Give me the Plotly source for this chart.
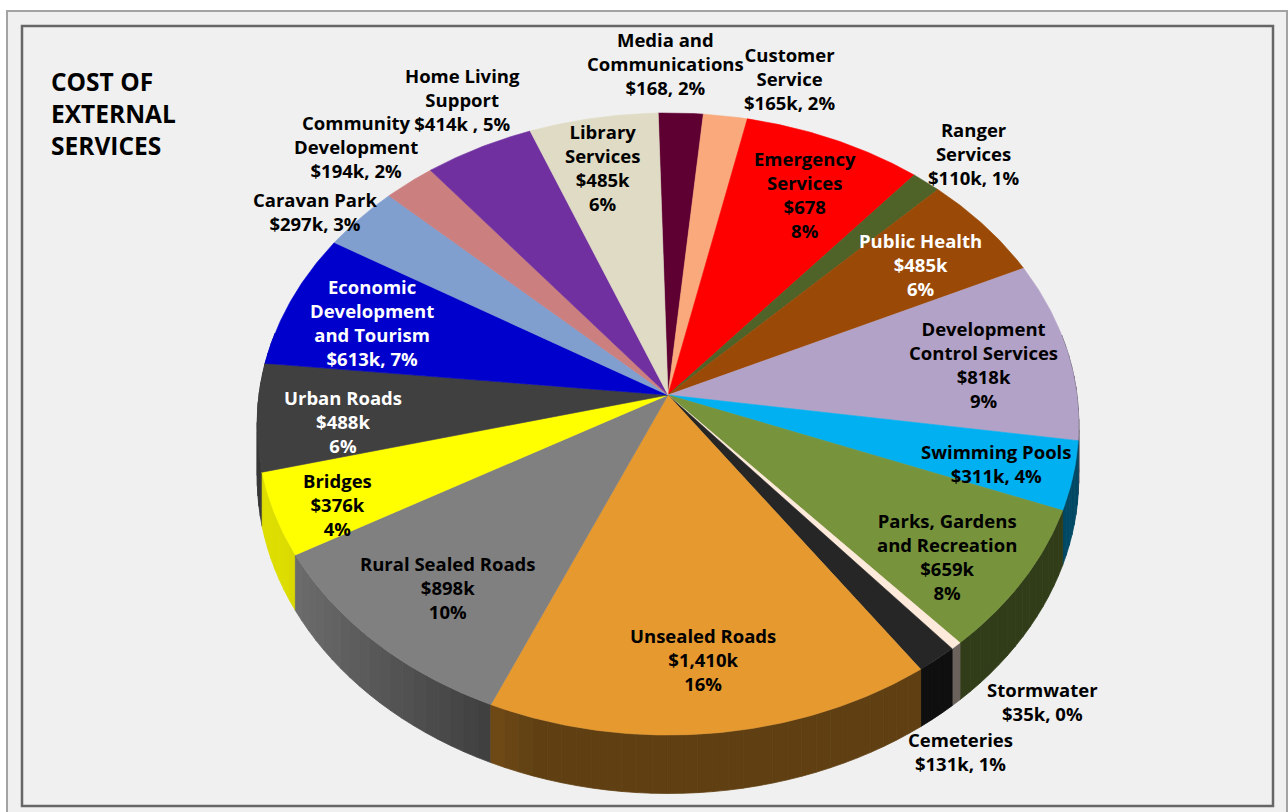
import numpy as np
import plotly.graph_objects as go

# ---------------- data ----------------
categories = ["Media and Communications", "Customer Service", "Emergency Services",
              "Ranger Services", "Public Health", "Development Control Services",
              "Swimming Pools", "Parks, Gardens and Recreation", "Stormwater",
              "Cemeteries", "Unsealed Roads", "Rural Sealed Roads", "Bridges",
              "Urban Roads", "Economic Development and Tourism", "Caravan Park",
              "Community Development", "Home Living Support", "Library Services"]
values_k = [168, 165, 678, 110, 485, 818, 311, 659, 35, 131, 1410, 898, 376, 488,
            613, 297, 194, 414, 485]
# text as it appears in each data label
name_lines = ["Media and<br>Communications", "Customer<br>Service", "Emergency<br>Services",
              "Ranger<br>Services", "Public Health", "Development<br>Control Services",
              "Swimming Pools", "Parks, Gardens<br>and Recreation", "Stormwater",
              "Cemeteries", "Unsealed Roads", "Rural Sealed Roads", "Bridges",
              "Urban Roads", "Economic<br>Development<br>and Tourism", "Caravan Park",
              "Community<br>Development", "Home Living<br>Support", "Library<br>Services"]
value_units = ["", "k", "", "k", "k", "k", "k", "k", "k", "k", "k", "k", "k", "k",
               "k", "k", "k", "k", "k"]
value_pct_sep = [", ", ", ", "<br>", ", ", "<br>", "<br>", ", ", "<br>", ", ", ", ",
                 "<br>", "<br>", "<br>", "<br>", ", ", ", ", ", ", " , ", "<br>"]
title_lines = ["COST OF", "EXTERNAL", "SERVICES"]

# ---------------- styles ----------------
colors = ["#5F0032", "#F9A97B", "#FF0000", "#4F6228", "#9A4A06", "#B3A2C7",
          "#00B0F0", "#77933C", "#FDEADA", "#262626", "#E6992F", "#808080",
          "#FFFF00", "#404040", "#0000CC", "#809ECE", "#CC7F7F", "#7030A0", "#DFDBC4"]
label_colors = ["black"] * len(categories)
for white_name in ["Public Health", "Urban Roads", "Economic Development and Tourism"]:
    label_colors[categories.index(white_name)] = "white"
# label centres (layout pixels)
label_pos = [(665, 63), (789, 78), (805, 194), (973, 153), (920, 264), (983, 364),
             (996, 463), (947, 556), (1042, 701), (960, 751), (703, 659), (448, 587),
             (337, 504), (343, 421), (372, 322), (315, 211), (356, 146), (462, 99),
             (602, 167)]

W, H = 1288, 812
CX, CY = 668.0, 395.0      # apex of the pie
A, B, K = 409.0, 308.3, 0.0933   # perspective ellipse parameters
DEPTH = 53.0
START = -1.5               # degrees, clockwise from 12 o'clock


def proj(theta_deg, drop=0.0):
    t = np.radians(theta_deg)
    X = np.sin(t)
    Y = np.cos(t)
    w = 1 + K * Y
    return CX + A * X / w, CY - B * Y / w + drop / w


def shade(hex_color, f):
    h = hex_color.lstrip("#")
    r, g, b = (int(h[i:i + 2], 16) for i in (0, 2, 4))
    return "rgb(%d,%d,%d)" % (min(255, r * f), min(255, g * f), min(255, b * f))


total = float(sum(values_k))
fracs = np.array(values_k) / total
bounds = START + 360.0 * np.concatenate([[0.0], np.cumsum(fracs)])

fig = go.Figure()

# ---- side walls (back to front) ----
walls = []
for i in range(len(values_k)):
    a0, a1 = bounds[i], bounds[i + 1]
    n = max(1, int(np.ceil((a1 - a0) / 2.0)))
    edges = np.linspace(a0, a1, n + 1)
    for s0, s1 in zip(edges[:-1], edges[1:]):
        mid = 0.5 * (s0 + s1)
        Ym = np.cos(np.radians(mid))
        if Ym > 0.2:
            continue
        Xm = np.sin(np.radians(mid))
        f = 0.42 + 0.45 * np.clip((-Xm - 0.3) / 0.6, 0, 1)
        th = np.linspace(s0, s1, 6)
        xt, yt = proj(th)
        xb, yb = proj(th[::-1], DEPTH)
        walls.append((Ym, np.concatenate([xt, xb, xt[:1]]),
                      np.concatenate([yt, yb, yt[:1]]), shade(colors[i], f)))
walls.sort(key=lambda w_: -w_[0])
for _, xs, ys, c in walls:
    fig.add_trace(go.Scatter(x=xs, y=ys, mode="lines", fill="toself",
                             fillcolor=c, line=dict(color=c, width=0.8),
                             hoverinfo="skip", showlegend=False))

# ---- top faces ----
for i, cat in enumerate(categories):
    a0, a1 = bounds[i], bounds[i + 1]
    th = np.linspace(a0, a1, max(3, int((a1 - a0) / 0.5) + 2))
    xa, ya = proj(th)
    xs = np.concatenate([[CX], xa, [CX]])
    ys = np.concatenate([[CY], ya, [CY]])
    fig.add_trace(go.Scatter(x=xs, y=ys, mode="lines", fill="toself",
                             fillcolor=colors[i], line=dict(color=colors[i], width=0.6),
                             name=cat, hoverinfo="name", showlegend=False))

# ---- labels ----
annotations = []
for i, cat in enumerate(categories):
    pct = int(round(100 * values_k[i] / total))
    val = "${:,}{}".format(values_k[i], value_units[i])
    txt = "<b>%s<br>%s%s%d%%</b>" % (name_lines[i], val, value_pct_sep[i], pct)
    x, y = label_pos[i]
    annotations.append(dict(x=x, y=y, xref="x", yref="y", text=txt, showarrow=False,
                            xanchor="center", yanchor="middle", align="center",
                            font=dict(family="Open Sans", size=18.5, color=label_colors[i])))

annotations.append(dict(x=49, y=113, xref="x", yref="y",
                        text="<b>%s</b>" % "<br>".join(title_lines), showarrow=False,
                        xanchor="left", yanchor="middle", align="left",
                        font=dict(family="Open Sans", size=24.5, color="black")))

shapes = [
    dict(type="rect", xref="x", yref="y", x0=7, y0=11, x1=1287, y1=818,
         fillcolor="#F0F0F0", line=dict(color="#A3A3A3", width=2), layer="below"),
    dict(type="rect", xref="x", yref="y", x0=22, y0=26, x1=1273, y1=806,
         fillcolor="#F0F0F0", line=dict(color="#666666", width=2.5), layer="below"),
]

fig.update_layout(
    width=W, height=H,
    margin=dict(l=0, r=0, t=0, b=0),
    paper_bgcolor="white", plot_bgcolor="white",
    xaxis=dict(range=[0, W], visible=False, fixedrange=True),
    yaxis=dict(range=[H, 0], visible=False, fixedrange=True),
    shapes=shapes, annotations=annotations,
    showlegend=False,
)

fig.write_html("out.html", config={"displayModeBar": False},
               post_script="document.body.style.margin='0';"
                           "document.body.style.overflow='hidden';")
